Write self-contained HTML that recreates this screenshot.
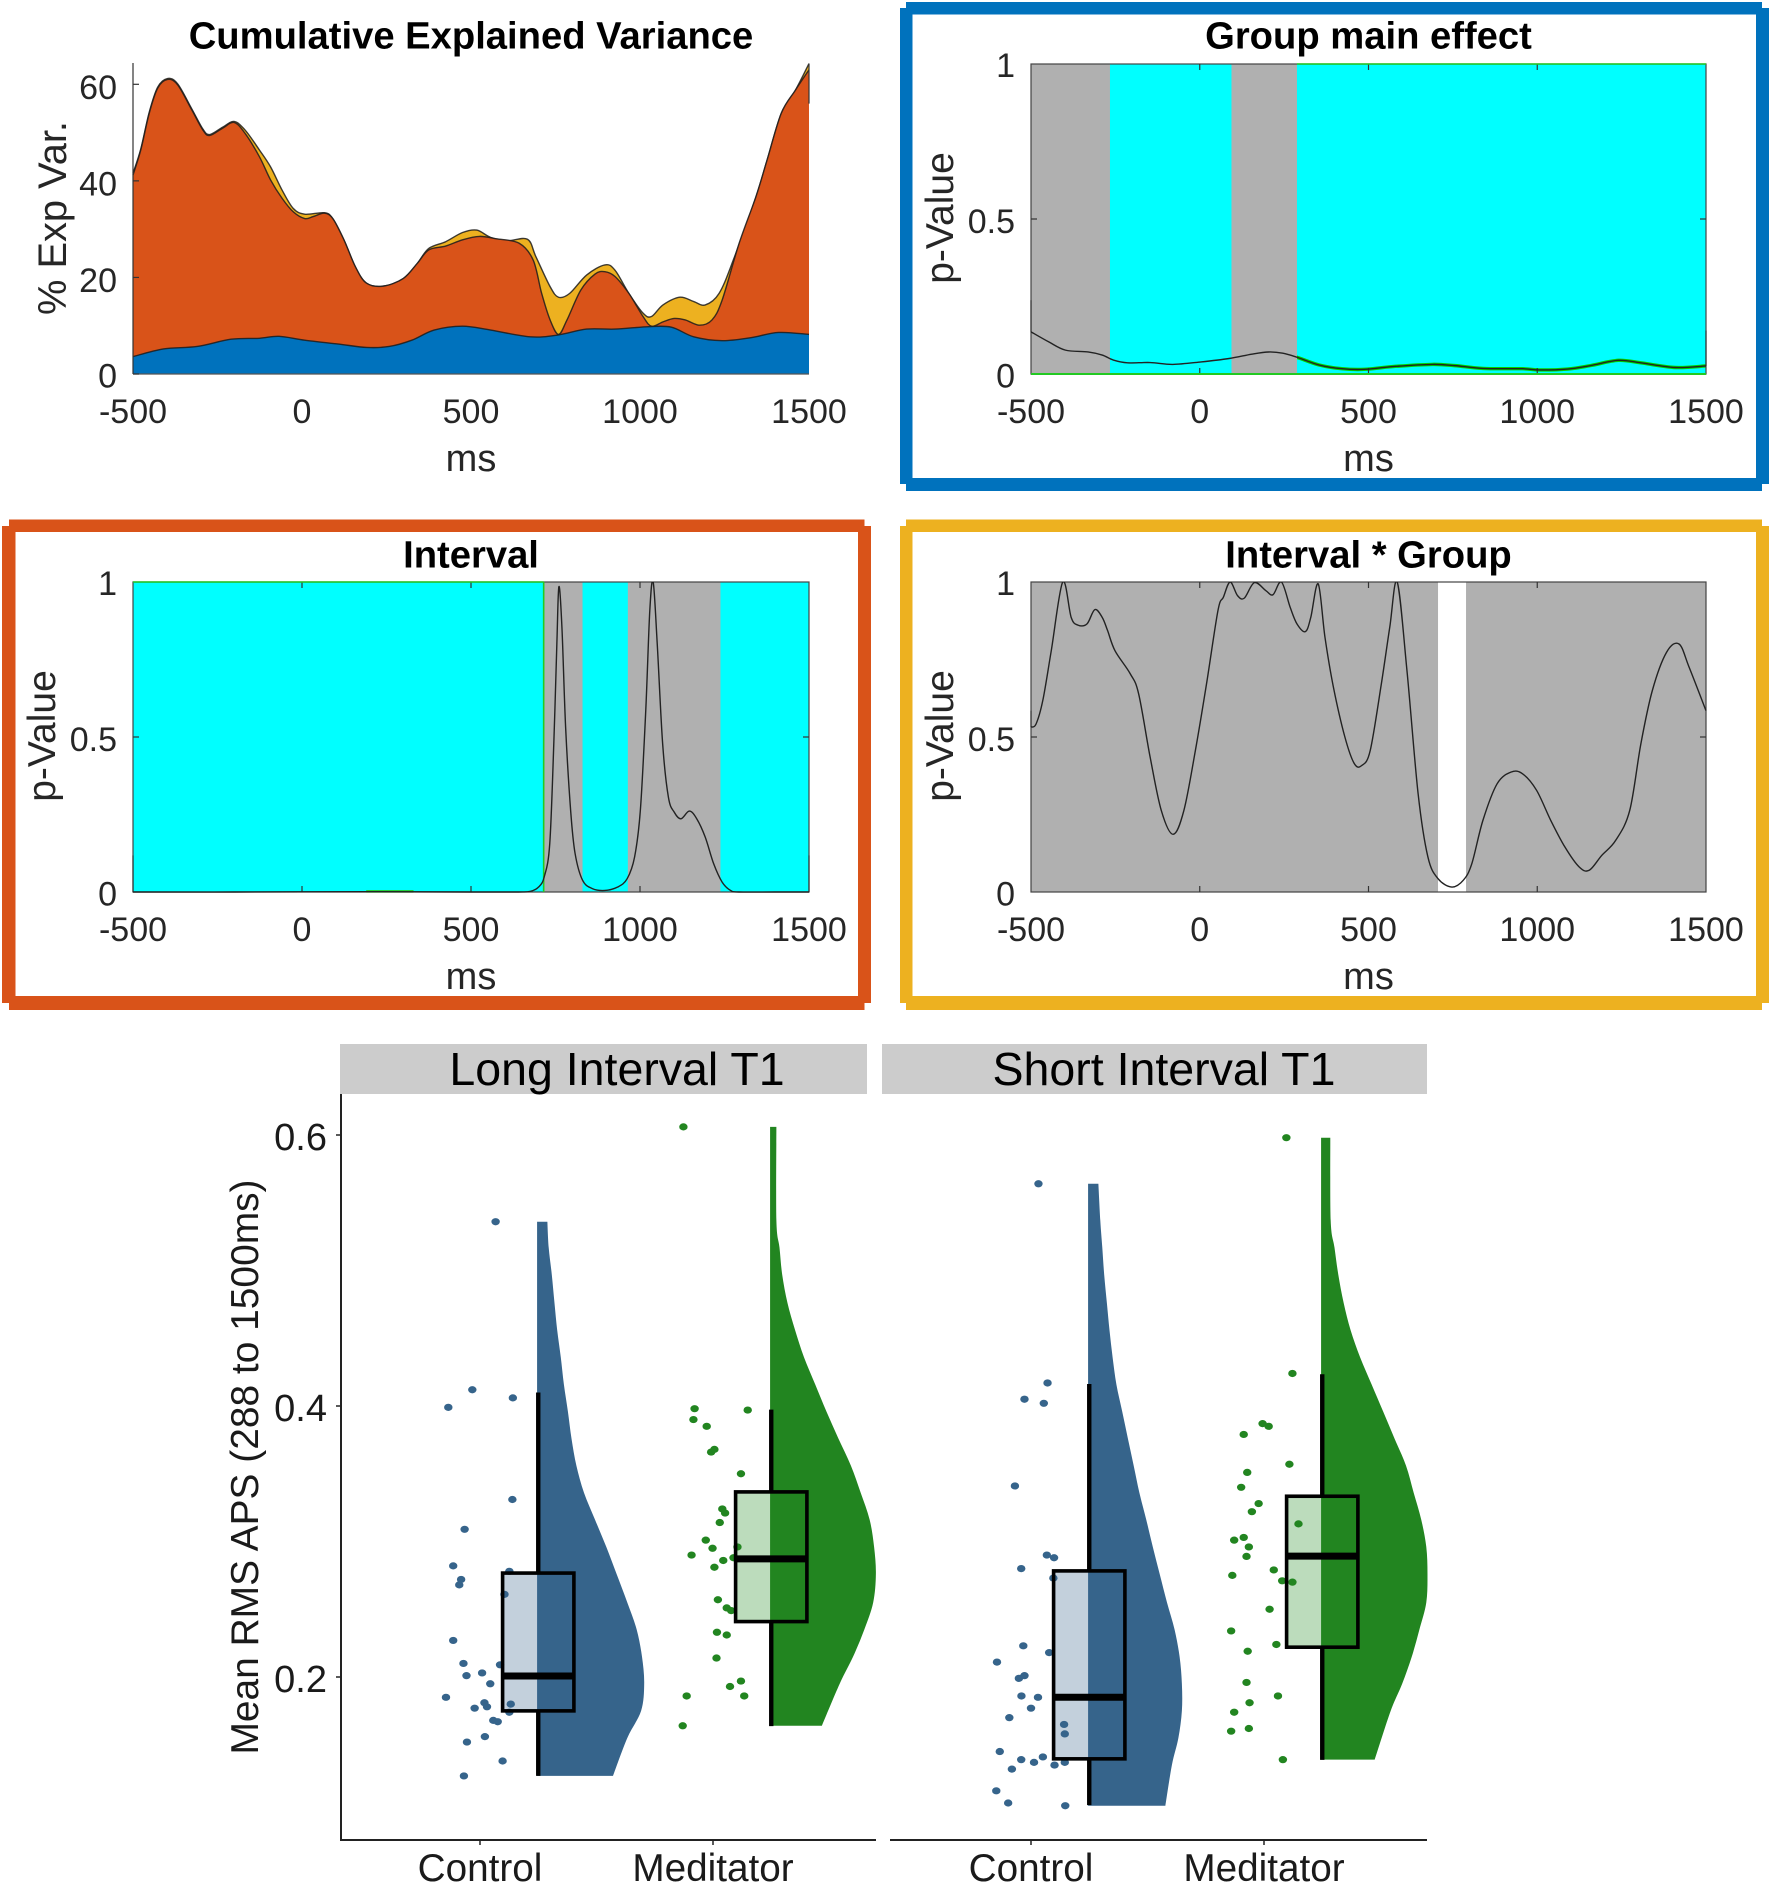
<!DOCTYPE html>
<html lang="en">
<head>
<meta charset="utf-8">
<title>Explained variance, p-values and raincloud plots</title>
<style>
html,body{margin:0;padding:0;background:#fff;width:1770px;height:1884px;overflow:hidden}
svg{display:block;position:absolute;left:0;top:0}
text{font-family:"Liberation Sans",Arial,sans-serif}
</style>
</head>
<body>
<svg id="fig" xmlns="http://www.w3.org/2000/svg" width="1770" height="1884" viewBox="0 0 1770 1884">
  <path fill="#0072BD" d="M906 2H1762V14.5H906ZM906 478H1762V491H906ZM900 8H912.5V484H900ZM1756 8H1769V484H1756Z"/>
  <path fill="#D95319" d="M9 519.5H864.5V532H9ZM9 996H864.5V1010H9ZM2 526H15.5V1003H2ZM858 526H871V1003H858Z"/>
  <path fill="#EDB120" d="M906 519.5H1762V532H906ZM906 996H1762V1010H906ZM900 526H912.5V1003H900ZM1756 526H1769V1003H1756Z"/>
  <rect x="340" y="1044" width="527" height="50" fill="#CCCCCC"/>
  <rect x="882" y="1044" width="545" height="50" fill="#CCCCCC"/>
  <text x="617" y="1085" font-size="46.5" text-anchor="middle" fill="#000">Long Interval T1</text>
  <text x="1164" y="1085" font-size="46.5" text-anchor="middle" fill="#000">Short Interval T1</text>
  <text transform="translate(258,1467) rotate(-90)" font-size="38.9" text-anchor="middle" fill="#1a1a1a">Mean RMS APS (288 to 1500ms)</text>
  <line x1="341" y1="1094" x2="341" y2="1840" stroke="#222" stroke-width="2"/>
  <line x1="340" y1="1840" x2="876" y2="1840" stroke="#222" stroke-width="2"/>
  <line x1="890" y1="1840" x2="1427" y2="1840" stroke="#222" stroke-width="2"/>
</svg>
<script>
// ---------- time-course data (ms, values) ----------
const timeTicks = [-500, 0, 500, 1000, 1500];
const varianceTicks = [0, 20, 40, 60];
const pTicks = [0, 0.5, 1];
const pTickLabels = ['0', '0.5', '1'];

const blueMs = [-500,-410,-310,-210,-126,-68,8,108,191,258,325,391,475,558,675,759,842,926,1026,1093,1159,1243,1326,1410,1500];
const blueVar = [3.6,5.2,5.7,7.2,7.4,7.8,7.0,6.2,5.5,5.7,7.0,9.1,9.9,9.1,7.7,8.1,9.3,9.3,9.8,9.7,7.7,6.9,7.5,8.6,8.2];

const orangeMs = [-500,-477,-452,-427,-398,-368,-326,-293,-273,-235,-201,-168,-126,-93,-59,-26,8,33,66,91,124,158,191,241,300,341,375,425,475,525,575,642,684,709,734,759,784,825,867,896,926,967,1009,1034,1068,1101,1134,1176,1213,1243,1293,1343,1376,1418,1460,1500];
const orangeVar = [41.2,46.4,54.0,59.2,61.0,59.9,54.7,50.5,49.4,50.9,52.1,49.8,45.0,40.2,36.4,33.6,32.2,32.6,33.3,32.2,27.8,22.2,18.8,18.2,19.8,22.9,25.7,26.5,27.8,28.5,28.0,27.1,23.6,16.7,11.2,8.2,11.2,17.4,20.7,21.2,20.2,16.7,11.9,9.9,10.8,11.5,11.2,10.1,11.2,15.3,27.0,36.7,44.3,54.0,58.8,63.0];

const yellowMs = [-500,-477,-452,-427,-398,-368,-326,-293,-273,-235,-201,-168,-126,-93,-59,-26,8,66,91,124,158,191,241,300,341,375,425,475,517,558,608,667,692,734,759,792,842,896,926,967,1009,1034,1068,1118,1159,1193,1234,1276,1343,1376,1418,1460,1500];
const yellowVar = [41.6,46.6,54.2,59.4,61.2,60.1,54.9,50.7,49.6,51.1,52.3,50.5,46.4,42.9,38.1,34.3,33.1,33.4,32.2,27.8,22.2,18.8,18.2,19.8,22.9,26.0,27.4,29.3,29.8,28.3,27.6,27.9,24.3,18.1,15.9,16.7,20.5,22.6,21.5,16.7,12.6,11.9,14.3,15.9,15.0,14.3,16.7,23.6,36.7,44.3,54.0,58.8,64.3];

const groupMs = [-500,-448,-398,-331,-289,-256,-214,-147,-80,4,87,154,204,246,288,354,421,488,572,689,756,839,956,1007,1090,1157,1240,1307,1408,1500];
const groupP = [.136,.104,.077,.071,.061,.045,.036,.037,.031,.039,.05,.064,.071,.067,.054,.029,.017,.015,.024,.031,.027,.018,.017,.013,.016,.027,.044,.036,.021,.026];
const groupSignificantStart = [-266, 94, 288, 1500];

const intervalMs = [-500,-200,200,500,640,675,700,717,733,745,754,760,769,780,795,808,830,859,896,934,962,984,1001,1017,1029,1039,1051,1067,1084,1101,1121,1146,1168,1193,1218,1243,1268,1293,1400,1500];
const intervalP = [0,0,.001,0,0,.002,.016,.05,.156,.48,.8,.985,.854,.53,.26,.124,.038,.011,.005,.016,.043,.113,.263,.585,.908,1,.8,.478,.306,.258,.236,.261,.236,.177,.091,.032,.005,0,0,0];
const intervalSignificantRanges = [[-500, 715], [830, 964], [1238, 1500]];

const interactionMs = [-500,-485,-465,-440,-406,-381,-361,-334,-311,-289,-273,-251,-206,-181,-147,-114,-79,-47,-13,20,54,70,90,112,132,162,196,217,242,268,288,313,329,351,371,396,430,458,480,505,538,563,585,614,647,676,706,747,781,806,839,881,923,957,998,1040,1082,1124,1154,1191,1232,1274,1307,1341,1383,1420,1450,1500];
const interactionP = [.532,.542,.618,.778,1,.886,.861,.865,.911,.886,.843,.778,.704,.639,.435,.263,.186,.263,.456,.671,.908,.951,1,.956,.948,.998,.972,.959,1,.918,.865,.84,.886,.994,.822,.661,.5,.414,.408,.456,.671,.854,1,.714,.317,.113,.043,.016,.038,.091,.231,.349,.387,.381,.328,.231,.145,.081,.07,.118,.166,.263,.478,.65,.773,.8,.725,.585];
const interactionSignificantRanges = [[706, 789]];

// ---------- raincloud data (APS values, density, jitter) ----------
const categories = ['Control', 'Meditator'];
const apsTicks = [0.2, 0.4, 0.6];
const apsTickLabels = ['0.2', '0.4', '0.6'];

const longControlDensityV = [.536,.517,.497,.476,.456,.436,.416,.396,.376,.356,.336,.316,.296,.276,.255,.235,.215,.195,.175,.155,.127];
const longControlDensity = [.103,.116,.147,.174,.201,.237,.268,.308,.344,.393,.469,.58,.692,.795,.902,.996,1.049,1.071,1.04,.902,.759];
const longMeditatorDensityV = [.606,.537,.517,.497,.476,.456,.436,.416,.396,.376,.356,.336,.316,.296,.276,.255,.235,.215,.195,.164];
const longMeditatorDensity = [.063,.063,.094,.121,.174,.25,.339,.451,.563,.683,.808,.906,.996,1.04,1.058,1.031,.942,.83,.696,.518];
const shortControlDensityV = [.564,.537,.517,.497,.476,.456,.436,.416,.396,.376,.356,.336,.316,.296,.276,.255,.235,.215,.195,.175,.155,.135,.105];
const shortControlDensity = [.103,.122,.142,.161,.188,.214,.245,.283,.341,.398,.456,.513,.582,.647,.716,.789,.865,.915,.938,.938,.903,.838,.773];
const shortMeditatorDensityV = [.598,.537,.517,.497,.476,.456,.436,.416,.396,.376,.356,.336,.316,.296,.276,.255,.235,.215,.195,.175,.139];
const shortMeditatorDensity = [.092,.096,.134,.172,.226,.295,.39,.505,.62,.734,.849,.926,1.002,1.052,1.064,1.052,.983,.907,.811,.696,.536];

// box stats: low whisker, q1, median, q3, high whisker
const longControlBox = [.127,.175,.2007,.2767,.410];
const longMeditatorBox = [.1637,.2409,.2872,.3366,.3973];
const shortControlBox = [.1054,.1396,.1851,.2783,.4162];
const shortMeditatorBox = [.1388,.2220,.2892,.3334,.4234];

const longControlJitter = [.067,-.033,-.136,.141,.139,-.066,-.115,-.081,-.089,.126,.105,-.115,-.071,.086,-.058,.009,.044,-.146,.019,.03,-.023,.132,.126,.057,.076,-.056,.021,.097,-.069];
const longControlValues = [.536,.412,.399,.406,.331,.309,.282,.272,.268,.278,.261,.227,.21,.209,.201,.203,.195,.185,.181,.178,.177,.18,.174,.168,.167,.152,.156,.138,.127];
const longMeditatorJitter = [-.127,-.079,-.084,-.027,.149,-.008,.006,.12,.04,.052,.029,-.031,-.002,-.092,.044,.088,.105,.006,.021,.059,.078,.017,.059,.015,.073,.12,.134,-.113,-.13];
const longMeditatorValues = [.606,.398,.39,.385,.397,.366,.368,.35,.324,.321,.314,.301,.295,.29,.286,.288,.296,.281,.257,.251,.249,.233,.231,.214,.193,.197,.186,.186,.164];
const shortControlJitter = [.032,.071,-.028,.055,-.069,.068,.099,-.042,.096,-.033,.078,-.146,-.052,-.028,-.041,.03,0,-.093,.142,.145,-.134,-.082,-.042,.013,.051,.101,.145,-.149,-.098,.147];
const shortControlValues = [.564,.417,.405,.402,.341,.29,.288,.28,.273,.223,.218,.211,.199,.201,.186,.185,.177,.17,.165,.158,.145,.132,.139,.137,.141,.135,.137,.116,.107,.105];
const shortMeditatorJitter = [.096,.122,-.006,.02,-.087,.109,-.072,-.098,-.023,-.052,.148,-.128,-.087,-.065,-.075,.042,-.136,.078,.122,.024,-.141,.053,-.07,-.075,.06,-.062,-.128,-.065,-.141,.081];
const shortMeditatorValues = [.598,.424,.387,.385,.379,.357,.351,.34,.328,.322,.313,.301,.303,.296,.289,.279,.275,.271,.27,.25,.234,.224,.219,.196,.186,.181,.174,.162,.16,.139];

// ---------- helpers ----------
const NS = 'http://www.w3.org/2000/svg';
const svg = document.getElementById('fig');
function make(parent, tag, attrs, txt) {
  const e = document.createElementNS(NS, tag);
  for (const k in attrs) e.setAttribute(k, attrs[k]);
  if (txt !== undefined) e.textContent = txt;
  parent.appendChild(e);
  return e;
}
function smooth(pts) {
  let d = 'M' + pts[0][0].toFixed(2) + ' ' + pts[0][1].toFixed(2);
  for (let i = 0; i < pts.length - 1; i++) {
    const p0 = pts[Math.max(0, i - 1)], p1 = pts[i], p2 = pts[i + 1], p3 = pts[Math.min(pts.length - 1, i + 2)];
    const c1x = p1[0] + (p2[0] - p0[0]) / 6, c1y = p1[1] + (p2[1] - p0[1]) / 6;
    const c2x = p2[0] - (p3[0] - p1[0]) / 6, c2y = p2[1] - (p3[1] - p1[1]) / 6;
    d += 'C' + c1x.toFixed(2) + ' ' + c1y.toFixed(2) + ' ' + c2x.toFixed(2) + ' ' + c2y.toFixed(2) + ' ' + p2[0].toFixed(2) + ' ' + p2[1].toFixed(2);
  }
  return d;
}
const TICK_COLOR = '#262626';
function xAxisLabels(left, right, tickBase, cx, msBase) {
  const sx = t => left + (t + 500) / 2000 * (right - left);
  timeTicks.forEach(t => {
    const lab = make(svg, 'text', {x: sx(t), y: tickBase, 'font-size': 34, 'text-anchor': 'middle', fill: TICK_COLOR}, String(t));
    
    
  });
  const ms = make(svg, 'text', {x: cx, y: msBase, 'font-size': 38, 'text-anchor': 'middle', fill: TICK_COLOR}, 'ms');
  
  
}

// ---------- panel 1: cumulative explained variance ----------
(function () {
  const L = 133, R = 809, T = 63, B = 374;
  const sx = t => L + (t + 500) / 2000 * (R - L);
  const sy = v => B - v * (B - 84.3) / 60;
  const layers = [
    ['yellow', yellowMs, yellowVar, '#EDB120'],
    ['orange', orangeMs, orangeVar, '#D95319'],
    ['blue', blueMs, blueVar, '#0072BD']
  ];
  layers.forEach(l => {
    const pts = l[1].map((t, i) => [sx(t), sy(l[2][i])]);
    const line = smooth(pts);
    const area = make(svg, 'path', {d: line + 'L' + sx(1500) + ' ' + B + 'L' + sx(-500) + ' ' + B + 'Z', fill: l[3]});
    
    
    const edge = make(svg, 'path', {d: line, fill: 'none', stroke: '#1c1c1c', 'stroke-width': 1.4, 'stroke-opacity': .85});
    
    
  });
  const ax = make(svg, 'line', {x1: L, y1: T, x2: L, y2: B, stroke: '#333', 'stroke-width': 1.2});
  
  
  const base = make(svg, 'line', {x1: L, y1: B, x2: R, y2: B, stroke: '#555', 'stroke-width': 1.2});
  
  
  const edgeR = make(svg, 'line', {x1: R, y1: sy(64.3), x2: R, y2: sy(56), stroke: '#333', 'stroke-width': 1.2});
  
  
  varianceTicks.forEach(v => {
    const tk = make(svg, 'line', {x1: L, y1: sy(v), x2: L + 6, y2: sy(v), stroke: '#333', 'stroke-width': 1.2});
    
    
    const lab = make(svg, 'text', {x: 117, y: sy(v) + (v === 0 ? 13.5 : 14.5), 'font-size': 34, 'text-anchor': 'end', fill: TICK_COLOR}, String(v));
    
    
  });
  const yt = make(svg, 'text', {transform: 'translate(66,218) rotate(-90)', 'font-size': 39.8, 'text-anchor': 'middle', fill: TICK_COLOR}, '% Exp Var.');
  
  
  const title = make(svg, 'text', {x: 471, y: 48.5, 'font-size': 38.2, 'font-weight': 'bold', 'text-anchor': 'middle', fill: '#000'}, 'Cumulative Explained Variance');
  
  
  xAxisLabels(L, R, 423, 471, 471);
})();

// ---------- p-value panels ----------
let clipCounter = 0;
function pPanel(o) {
  const L = o.L, R = o.R, T = o.T, B = o.B;
  const sx = t => L + (t + 500) / 2000 * (R - L);
  const sy = p => B - p * (B - T);
  const top = T === 64;
  const bg = make(svg, 'rect', {x: L, y: T, width: R - L, height: B - T, fill: o.baseFill});
  
  
  o.bands.forEach(b => {
    const r = make(svg, 'rect', {x: sx(b[0]), y: T, width: sx(b[1]) - sx(b[0]), height: B - T, fill: o.bandFill});
    
    
  });
  const id = 'clip' + (clipCounter++);
  const cp = make(svg, 'clipPath', {id: id});
  make(cp, 'rect', {x: L - 1, y: T, width: R - L + 2, height: B - T + 1});
  const d = smooth(o.ms.map((t, i) => [sx(t), sy(o.p[i])]));
  if (o.greenFrom !== undefined) {
    const gid = 'clip' + (clipCounter++);
    const gc = make(svg, 'clipPath', {id: gid});
    make(gc, 'rect', {x: sx(o.greenFrom), y: T, width: R - sx(o.greenFrom), height: B - T});
    const g = make(svg, 'path', {d: d, fill: 'none', stroke: '#00d000', 'stroke-width': 3.4, 'clip-path': 'url(#' + gid + ')'});
    
    
  }
  const box = make(svg, 'rect', {x: L, y: T, width: R - L, height: B - T, fill: 'none', stroke: '#444', 'stroke-width': 1.2});
  
  
  timeTicks.slice(1, 4).forEach(t => {
    [[T, T + 6], [B, B - 6]].forEach(s => {
      const tk = make(svg, 'line', {x1: sx(t), y1: s[0], x2: sx(t), y2: s[1], stroke: '#333', 'stroke-width': 1.2});
      
      
    });
  });
  [[L, L + 6], [R, R - 6]].forEach(s => {
    const tk = make(svg, 'line', {x1: s[0], y1: sy(0.5), x2: s[1], y2: sy(0.5), stroke: '#333', 'stroke-width': 1.2});
    
    
  });
  o.greens.forEach(g => {
    const gl = make(svg, 'line', {x1: sx(g[0]), y1: sy(g[2]), x2: sx(g[1]), y2: sy(g[3]), stroke: '#22c922', 'stroke-width': g[4]});
    
    
  });
  o.edges.forEach(e => {
    const el = make(svg, 'line', {x1: sx(e[0]), y1: sy(e[1]), x2: sx(e[0]), y2: sy(e[2]), stroke: '#333', 'stroke-width': 1.2});
    
    
  });
  const ln = make(svg, 'path', {d: d, fill: 'none', stroke: '#222', 'stroke-width': 1.4, 'clip-path': 'url(#' + id + ')'});
  
  
  pTicks.forEach((p, i) => {
    const lab = make(svg, 'text', {x: L - 16, y: sy(p) + (i === 2 ? 13 : i === 1 ? 14 : 13.5), 'font-size': 34, 'text-anchor': 'end', fill: TICK_COLOR}, pTickLabels[i]);
    
    
  });
  const yt = make(svg, 'text', {transform: 'translate(' + (L - 78) + ',' + ((T + B) / 2 - 1) + ') rotate(-90)', 'font-size': 39, 'text-anchor': 'middle', fill: TICK_COLOR}, 'p-Value');
  
  
  const title = make(svg, 'text', {x: (L + R) / 2, y: top ? 48.5 : 567.5, 'font-size': 38.2, 'font-weight': 'bold', 'text-anchor': 'middle', fill: '#000'}, o.title);
  
  
  xAxisLabels(L, R, top ? 423 : 941, (L + R) / 2, top ? 471 : 989);
}

pPanel({key: 'group', L: 1031, R: 1706, T: 64, B: 374, baseFill: '#B0B0B0', bandFill: '#00FFFF',
  bands: [[groupSignificantStart[0], groupSignificantStart[1]], [groupSignificantStart[2], groupSignificantStart[3]]],
  ms: groupMs, p: groupP, greenFrom: 288,
  greens: [[288, 1500, 1, 1, 1.6], [-500, 1500, 0, 0, 2]],
  edges: [[-500, .238, .136], [1500, .14, .026]],
  title: 'Group main effect'});

pPanel({key: 'interval', L: 133, R: 809, T: 582, B: 892, baseFill: '#B0B0B0', bandFill: '#00FFFF',
  bands: intervalSignificantRanges, ms: intervalMs, p: intervalP,
  greens: [[-500, 715, 1, 1, 1.6], [715, 715, 0, 1, 1.6], [190, 330, .002, .002, 2.4]],
  edges: [[-500, .118, 0], [1500, .118, 0]],
  title: 'Interval'});

pPanel({key: 'interaction', L: 1031, R: 1706, T: 582, B: 892, baseFill: '#B0B0B0', bandFill: '#FFFFFF',
  bands: interactionSignificantRanges, ms: interactionMs, p: interactionP,
  greens: [], edges: [[-500, .585, .532]],
  title: 'Interval * Group'});

// ---------- raincloud panels ----------
const apsY = v => 1677 - (v - 0.2) * 1355;
const CAT_UNIT = 233;

apsTicks.forEach((v, i) => {
  const tk = make(svg, 'line', {x1: 336, y1: apsY(v), x2: 341, y2: apsY(v), stroke: '#222', 'stroke-width': 1.5});
  
  
  const lab = make(svg, 'text', {x: 327, y: apsY(v) + 15, 'font-size': 38, 'text-anchor': 'end', fill: '#1a1a1a'}, apsTickLabels[i]);
  
  
});

function cloud(o) {
  const base = o.tick + 0.245 * CAT_UNIT;
  const cx = o.tick + 0.25 * CAT_UNIT;
  const halfW = 0.153 * CAT_UNIT;
  const b = o.box;
  const tint = make(svg, 'rect', {x: cx - halfW, y: apsY(b[3]), width: halfW * 2, height: apsY(b[1]) - apsY(b[3]), fill: o.tint});
  
  
  o.jitter.forEach((j, i) => {
    const c = make(svg, 'ellipse', {cx: o.tick + j * CAT_UNIT, cy: apsY(o.values[i]), rx: 4.2, ry: 3.6, fill: o.color});
    
    
  });
  const curve = smooth(o.densV.map((v, i) => [base + o.dens[i] * 100, apsY(v)]));
  const d = 'M' + base + ' ' + apsY(o.densV[0]) + 'L' + curve.slice(1) + 'L' + base + ' ' + apsY(o.densV[o.densV.length - 1]) + 'Z';
  const vio = make(svg, 'path', {d: d, fill: o.color});
  
  
  [[b[4], b[3]], [b[1], b[0]]].forEach(s => {
    const w = make(svg, 'line', {x1: cx, y1: apsY(s[0]), x2: cx, y2: apsY(s[1]), stroke: '#000', 'stroke-width': 4.4});
    
    
  });
  const rect = make(svg, 'rect', {x: cx - halfW, y: apsY(b[3]), width: halfW * 2, height: apsY(b[1]) - apsY(b[3]), fill: 'none', stroke: '#000', 'stroke-width': 3.6});
  
  
  const med = make(svg, 'line', {x1: cx - halfW, y1: apsY(b[2]), x2: cx + halfW, y2: apsY(b[2]), stroke: '#000', 'stroke-width': 7});
  
  
  const tk = make(svg, 'line', {x1: o.tick, y1: 1840, x2: o.tick, y2: 1845, stroke: '#222', 'stroke-width': 1.5});
  
  
  const lab = make(svg, 'text', {x: o.tick, y: 1881, 'font-size': 38.7, 'text-anchor': 'middle', fill: '#1a1a1a'}, o.label);
  
  
}
const BLUE = '#36648B', GREEN = '#228520', BLUE_TINT = '#C3D0DC', GREEN_TINT = '#BCDCBC';
cloud({key: 'long-control', tick: 480, label: categories[0], color: BLUE, tint: BLUE_TINT, box: longControlBox, jitter: longControlJitter, values: longControlValues, densV: longControlDensityV, dens: longControlDensity});
cloud({key: 'long-meditator', tick: 713, label: categories[1], color: GREEN, tint: GREEN_TINT, box: longMeditatorBox, jitter: longMeditatorJitter, values: longMeditatorValues, densV: longMeditatorDensityV, dens: longMeditatorDensity});
cloud({key: 'short-control', tick: 1031, label: categories[0], color: BLUE, tint: BLUE_TINT, box: shortControlBox, jitter: shortControlJitter, values: shortControlValues, densV: shortControlDensityV, dens: shortControlDensity});
cloud({key: 'short-meditator', tick: 1264, label: categories[1], color: GREEN, tint: GREEN_TINT, box: shortMeditatorBox, jitter: shortMeditatorJitter, values: shortMeditatorValues, densV: shortMeditatorDensityV, dens: shortMeditatorDensity});
</script>
</body>
</html>
